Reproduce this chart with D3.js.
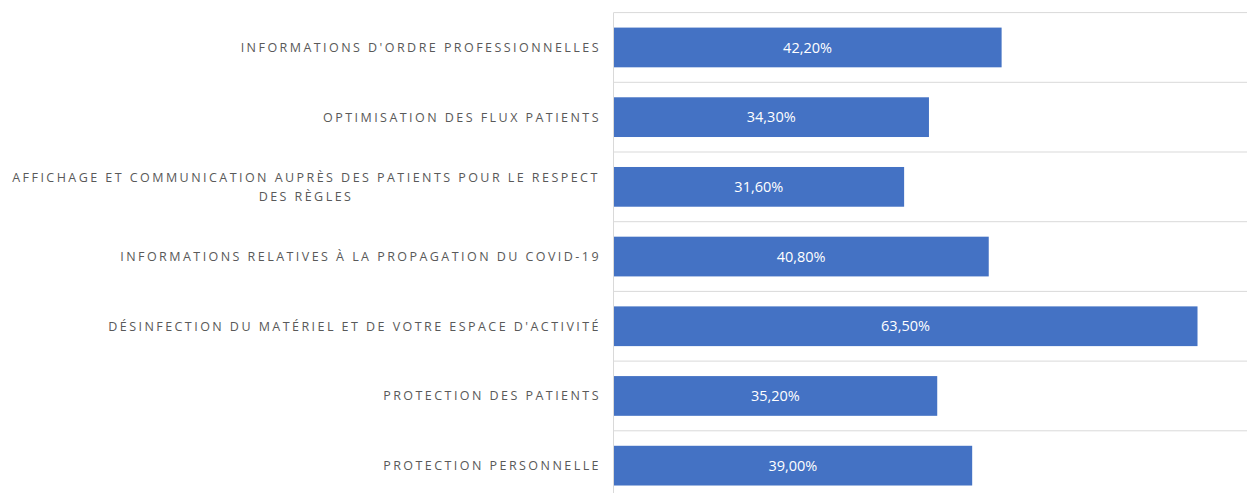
<!DOCTYPE html>
<html>
<head>
<meta charset="utf-8">
<script src="https://cdn.jsdelivr.net/npm/d3@7"></script>
<style>
  body { margin: 0; background: #fff; }
  svg { display: block; }
  .cat { font-family: "Open Sans", sans-serif; font-size: 12.5px; fill: #595959; letter-spacing: 2.45px; }
  .val { font-family: "Open Sans", sans-serif; font-size: 14.5px; fill: #fff; }
</style>
</head>
<body>
<script>
// categories, top to bottom
var categories = [
  "INFORMATIONS D'ORDRE PROFESSIONNELLES",
  "OPTIMISATION DES FLUX PATIENTS",
  "AFFICHAGE ET COMMUNICATION AUPRÈS DES PATIENTS POUR LE RESPECT DES RÈGLES",
  "INFORMATIONS RELATIVES À LA PROPAGATION DU COVID-19",
  "DÉSINFECTION DU MATÉRIEL ET DE VOTRE ESPACE D'ACTIVITÉ",
  "PROTECTION DES PATIENTS",
  "PROTECTION PERSONNELLE"
]
// share of respondents
var values = [0.422, 0.343, 0.316, 0.408, 0.635, 0.352, 0.390]

var W = 1247, H = 493
var plotLeft = 613.5, plotTop = 12.6, step = 69.7

var svg = d3.select('body').append('svg')
    .attr('width', W)
    .attr('height', H)

var x = d3.scaleLinear()
  .domain([0, 0.7])
  .range([plotLeft, plotLeft + 0.7 * 919.7])

var y = d3.scaleBand()
  .domain(categories)
  .range([plotTop, plotTop + step * categories.length])
  .paddingInner(0.43)
  .paddingOuter(0.215)

var fmt = function (v) { return (v * 100).toFixed(2).replace('.', ',') + '%' }

// horizontal separators between categories
svg.selectAll('line.grid')
    .data(d3.range(categories.length + 1))
    .enter()
  .append('line')
    .attr('class', 'grid')
    .attr('x1', plotLeft)
    .attr('x2', W)
    .attr('y1', function (i) { return plotTop + i * y.step() })
    .attr('y2', function (i) { return plotTop + i * y.step() })
    .attr('stroke', '#d9d9d9')
    .attr('stroke-width', 1)

// bars
svg.selectAll('rect')
    .data(values)
    .enter()
  .append('rect')
    .attr('x', x(0))
    .attr('y', function (d, i) { return y(categories[i]) })
    .attr('width', function (d) { return x(d) - x(0) })
    .attr('height', y.bandwidth())
    .attr('fill', '#4472c4')

// value labels inside the bars
svg.selectAll('text.val')
    .data(values)
    .enter()
  .append('text')
    .attr('class', 'val')
    .attr('x', function (d) { return (x(0) + x(d)) / 2 })
    .attr('y', function (d, i) { return y(categories[i]) + y.bandwidth() / 2 })
    .attr('dy', '0.35em')
    .attr('text-anchor', 'middle')
    .text(fmt)

// vertical axis line
svg.append('line')
    .attr('x1', plotLeft).attr('x2', plotLeft)
    .attr('y1', plotTop).attr('y2', H)
    .attr('stroke', '#d9d9d9')
    .attr('stroke-width', 1)

// category labels, wrapped to the space left of the axis
var maxW = 596
categories.forEach(function (c, i) {
  var cy = y(c) + y.bandwidth() / 2
  var g = svg.append('text').attr('class', 'cat').attr('text-anchor', 'middle')
  var words = c.split(' '), lines = [], line = []
  var probe = g.append('tspan')
  words.forEach(function (w) {
    line.push(w)
    probe.text(line.join(' '))
    if (probe.node().getComputedTextLength() > maxW && line.length > 1) {
      line.pop()
      lines.push(line.join(' '))
      line = [w]
    }
  })
  lines.push(line.join(' '))
  probe.remove()
  if (lines.length === 1) {
    g.attr('text-anchor', 'end')
    g.append('tspan').attr('x', 601).attr('y', cy).attr('dy', '0.35em').text(lines[0])
  } else {
    var cx = 306
    lines.forEach(function (l, k) {
      g.append('tspan')
        .attr('x', cx)
        .attr('y', cy + (k - (lines.length - 1) / 2) * 19)
        .attr('dy', '0.35em')
        .text(l)
    })
  }
})
</script>
</body>
</html>
